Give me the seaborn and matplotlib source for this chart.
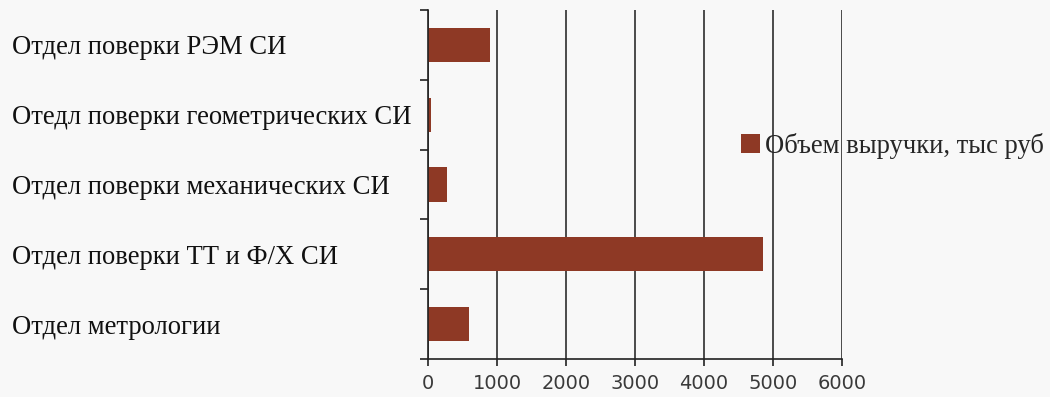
import matplotlib
matplotlib.use("Agg")
import matplotlib.pyplot as plt
import seaborn as sns
import pandas as pd
import numpy as np

# Revenue by department, thousand rubles
departments = [
    "Отдел поверки РЭМ СИ",
    "Отедл поверки геометрических СИ",
    "Отдел поверки механических СИ",
    "Отдел поверки ТТ и Ф/Х СИ",
    "Отдел метрологии",
]
revenue = [900, 40, 270, 4850, 600]
series_name = "Объем выручки, тыс руб"
x_ticks = [0, 1000, 2000, 3000, 4000, 5000, 6000]

df = pd.DataFrame({"dept": departments, "value": revenue, "series": series_name})

sns.set_theme(style="white")
plt.rcParams["font.family"] = ["Liberation Serif", "DejaVu Serif"]

bg = "#f8f8f8"
bar_color = "#8e3925"

fig = plt.figure(figsize=(10.5, 3.97), dpi=100, facecolor=bg)
ax = fig.add_axes([428 / 1050, 1 - 359 / 397, (842 - 428) / 1050, (359 - 10) / 397])
ax.set_facecolor(bg)

sns.barplot(data=df, y="dept", x="value", hue="series", orient="h",
            palette=[bar_color], width=0.49, ax=ax, legend=True,
            edgecolor="none", saturation=1)

ax.set_xlim(0, 6000)
ax.set_ylim(len(departments) - 0.5, -0.5)
ax.set_xlabel("")
ax.set_ylabel("")

# vertical grid
ax.set_xticks(x_ticks)
ax.set_xticklabels([str(t) for t in x_ticks], family="DejaVu Sans",
                   fontsize=14, color="#3a3a3a")
ax.grid(axis="x", color="#3c3c3c", linewidth=1.3)
ax.grid(axis="y", visible=False)
ax.set_axisbelow(True)

for side in ["top", "right"]:
    ax.spines[side].set_visible(False)
ax.spines["left"].set_color("#222222")
ax.spines["bottom"].set_color("#222222")
ax.spines["left"].set_linewidth(1.2)
ax.spines["bottom"].set_linewidth(1.2)

# category labels left aligned at the figure edge, ticks at band boundaries
ax.set_yticks(range(len(departments)))
ax.set_yticklabels(departments, fontsize=19.2, color="#111111", ha="left")
ax.tick_params(axis="y", which="major", length=0, pad=(428 - 12) * 0.72)
ax.set_yticks(np.arange(-0.5, len(departments), 1.0), minor=True)
ax.tick_params(axis="y", which="minor", length=6, width=1.2, color="#222222", left=True)
ax.tick_params(axis="x", which="major", length=5, width=1.2, color="#222222",
               bottom=True, pad=6)

leg = ax.get_legend()
if leg is not None:
    leg.remove()
handles = [plt.Rectangle((0, 0), 1, 1, facecolor=bar_color, edgecolor="none")]
fig.legend(handles, [series_name], loc="center left",
           bbox_to_anchor=(741 / 1050, 1 - 146 / 397), frameon=False,
           fontsize=19.2, handlelength=0.7, handleheight=0.7,
           handletextpad=0.2, borderaxespad=0, borderpad=0)

fig.savefig("out.png", dpi=100, facecolor=bg)
